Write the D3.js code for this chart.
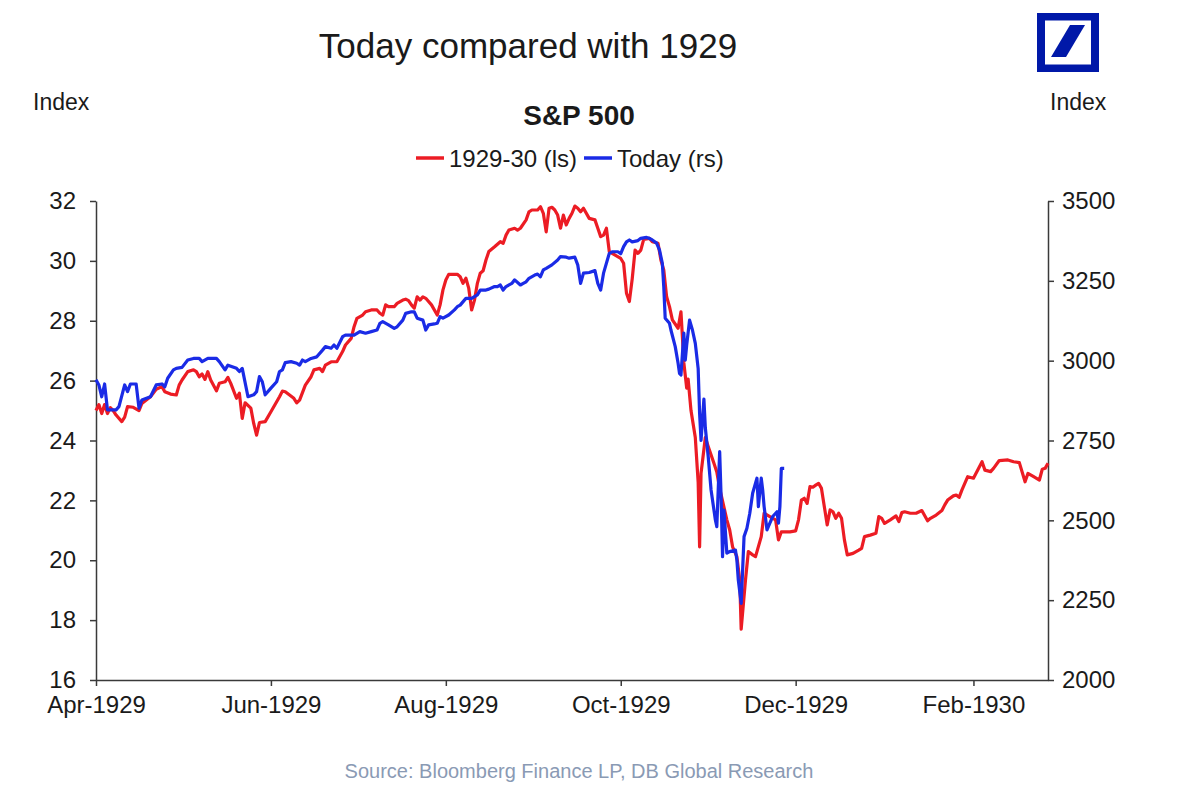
<!DOCTYPE html>
<html>
<head>
<meta charset="utf-8">
<script src="https://cdn.jsdelivr.net/npm/d3@7"></script>
<style>
  html, body { margin: 0; padding: 0; background: #fff; }
  svg { display: block; font-family: "Liberation Sans", Arial, sans-serif; }
</style>
</head>
<body>
<svg id="chart" width="1200" height="797"></svg>
<script>
// ---------------- DATA ----------------
const dates1929 = [
  "1929-04-01","1929-04-02","1929-04-03","1929-04-04","1929-04-05","1929-04-06","1929-04-07","1929-04-08","1929-04-10","1929-04-11",
  "1929-04-12","1929-04-14","1929-04-16","1929-04-17","1929-04-20","1929-04-22","1929-04-24","1929-04-25","1929-04-27","1929-04-29",
  "1929-04-30","1929-05-01","1929-05-03","1929-05-05","1929-05-06","1929-05-07","1929-05-08","1929-05-09","1929-05-10","1929-05-11",
  "1929-05-13","1929-05-14","1929-05-16","1929-05-17","1929-05-18","1929-05-20","1929-05-21","1929-05-22","1929-05-23","1929-05-25",
  "1929-05-26","1929-05-27","1929-05-28","1929-05-30","1929-06-01","1929-06-04","1929-06-05","1929-06-06","1929-06-09","1929-06-10",
  "1929-06-11","1929-06-13","1929-06-15","1929-06-16","1929-06-18","1929-06-19","1929-06-20","1929-06-22","1929-06-24","1929-06-26",
  "1929-06-27","1929-06-29","1929-06-30","1929-07-01","1929-07-03","1929-07-04","1929-07-06","1929-07-08","1929-07-09","1929-07-10",
  "1929-07-11","1929-07-12","1929-07-14","1929-07-15","1929-07-17","1929-07-18","1929-07-19","1929-07-20","1929-07-21","1929-07-22",
  "1929-07-23","1929-07-24","1929-07-25","1929-07-27","1929-07-29","1929-07-30","1929-07-31","1929-08-01","1929-08-02","1929-08-05",
  "1929-08-06","1929-08-07","1929-08-08","1929-08-09","1929-08-10","1929-08-11","1929-08-12","1929-08-13","1929-08-14","1929-08-15",
  "1929-08-16","1929-08-18","1929-08-20","1929-08-21","1929-08-22","1929-08-23","1929-08-25","1929-08-26","1929-08-27","1929-08-29",
  "1929-08-30","1929-08-31","1929-09-02","1929-09-03","1929-09-04","1929-09-05","1929-09-06","1929-09-07","1929-09-08","1929-09-09",
  "1929-09-10","1929-09-11","1929-09-12","1929-09-13","1929-09-14","1929-09-15","1929-09-16","1929-09-17","1929-09-18","1929-09-20",
  "1929-09-22","1929-09-23","1929-09-24","1929-09-25","1929-09-26","1929-09-27","1929-09-28","1929-10-01","1929-10-02","1929-10-03",
  "1929-10-04","1929-10-05","1929-10-06","1929-10-07","1929-10-08","1929-10-09","1929-10-11","1929-10-12","1929-10-14","1929-10-15",
  "1929-10-16","1929-10-17","1929-10-18","1929-10-19","1929-10-21","1929-10-22","1929-10-22 12:00","1929-10-23","1929-10-24","1929-10-24 12:00",
  "1929-10-25 12:00","1929-10-27","1929-10-28","1929-10-28 12:00","1929-10-29","1929-10-30 12:00","1929-10-31 12:00","1929-11-02 12:00","1929-11-03 12:00","1929-11-04 12:00",
  "1929-11-07","1929-11-08","1929-11-09","1929-11-10 12:00","1929-11-11 12:00","1929-11-12","1929-11-13 12:00","1929-11-14 12:00","1929-11-16","1929-11-17",
  "1929-11-19","1929-11-20","1929-11-22","1929-11-24","1929-11-25","1929-11-26","1929-11-29","1929-12-01","1929-12-02","1929-12-03",
  "1929-12-04","1929-12-05","1929-12-06","1929-12-07","1929-12-08","1929-12-09","1929-12-10","1929-12-11","1929-12-12","1929-12-13",
  "1929-12-14","1929-12-15","1929-12-16","1929-12-17","1929-12-18","1929-12-19","1929-12-21","1929-12-23","1929-12-24","1929-12-25",
  "1929-12-27","1929-12-29","1929-12-30","1929-12-31","1930-01-01","1930-01-03","1930-01-05","1930-01-06","1930-01-07","1930-01-08",
  "1930-01-10","1930-01-12","1930-01-14","1930-01-16","1930-01-17","1930-01-19","1930-01-21","1930-01-22","1930-01-23","1930-01-25",
  "1930-01-26","1930-01-27","1930-01-28","1930-01-30","1930-02-01","1930-02-04","1930-02-05","1930-02-07","1930-02-08","1930-02-10",
  "1930-02-13","1930-02-15","1930-02-17","1930-02-19","1930-02-20","1930-02-22","1930-02-24","1930-02-25","1930-02-26","1930-02-27"
];
const values1929 = [
  25.0,25.2,24.9,25.2,24.9,25.1,25.0,24.85,24.63,24.78,
  25.13,25.11,25.0,25.24,25.46,25.71,25.80,25.63,25.55,25.52,
  25.85,26.02,26.30,26.36,26.30,26.13,26.22,26.04,26.30,26.02,
  25.66,25.91,25.96,26.11,25.91,25.41,25.58,24.74,25.26,25.08,
  24.57,24.18,24.60,24.63,24.96,25.46,25.65,25.63,25.41,25.26,
  25.35,25.85,26.13,26.36,26.41,26.30,26.52,26.63,26.63,26.97,
  27.19,27.41,27.80,28.08,28.19,28.30,28.36,28.36,28.25,28.19,
  28.53,28.47,28.47,28.58,28.69,28.72,28.67,28.53,28.42,28.80,
  28.69,28.80,28.75,28.53,28.19,28.53,29.03,29.36,29.55,29.55,
  29.47,29.25,29.42,29.08,28.36,28.69,29.25,29.59,29.67,30.03,
  30.31,30.47,30.64,30.59,30.86,31.03,31.09,31.03,31.09,31.37,
  31.64,31.70,31.70,31.81,31.59,30.97,31.76,31.79,31.70,31.53,
  31.09,31.53,31.20,31.42,31.59,31.83,31.76,31.64,31.76,31.42,
  31.37,31.09,30.81,30.86,31.09,30.31,30.25,30.08,29.92,28.92,
  28.64,29.40,30.36,30.25,30.36,30.72,30.75,30.64,30.59,30.03,
  29.70,28.80,28.47,28.03,27.75,28.30,27.47,26.60,25.75,26.05,
  25.00,24.10,22.60,20.45,22.90,24.10,23.80,23.24,22.95,22.40,
  21.35,21.01,20.45,20.12,19.34,17.70,19.34,20.29,20.18,20.12,
  20.79,21.57,21.46,21.35,20.68,20.95,20.95,20.98,21.35,22.01,
  22.07,21.90,22.46,22.44,22.51,22.57,22.40,21.79,21.18,21.68,
  21.62,21.40,21.57,21.40,20.68,20.18,20.23,20.34,20.40,20.79,
  20.84,20.90,21.46,21.40,21.23,21.35,21.48,21.29,21.59,21.62,
  21.57,21.57,21.66,21.32,21.40,21.51,21.66,21.85,22.01,22.15,
  22.18,22.10,22.35,22.79,22.74,23.29,23.01,22.96,23.07,23.33,
  23.35,23.29,23.26,22.62,22.90,22.79,22.68,23.04,23.07,23.24
];

const datesToday = [
  "1929-04-01","1929-04-02","1929-04-03","1929-04-04","1929-04-05","1929-04-08","1929-04-09","1929-04-11","1929-04-12","1929-04-13",
  "1929-04-15","1929-04-16","1929-04-17","1929-04-20","1929-04-22","1929-04-24","1929-04-25","1929-04-26","1929-04-28","1929-04-29",
  "1929-05-01","1929-05-03","1929-05-05","1929-05-07","1929-05-08","1929-05-10","1929-05-13","1929-05-14","1929-05-16","1929-05-17",
  "1929-05-20","1929-05-21","1929-05-22","1929-05-24","1929-05-26","1929-05-27","1929-05-28","1929-05-29","1929-05-30","1929-06-01",
  "1929-06-03","1929-06-04","1929-06-05","1929-06-06","1929-06-08","1929-06-10","1929-06-11","1929-06-12","1929-06-13","1929-06-15",
  "1929-06-17","1929-06-19","1929-06-20","1929-06-22","1929-06-23","1929-06-24","1929-06-26","1929-06-27","1929-06-30","1929-07-02",
  "1929-07-04","1929-07-06","1929-07-08","1929-07-09","1929-07-10","1929-07-12","1929-07-14","1929-07-15","1929-07-17","1929-07-18",
  "1929-07-20","1929-07-21","1929-07-22","1929-07-24","1929-07-25","1929-07-26","1929-07-28","1929-07-29","1929-07-30","1929-07-31",
  "1929-08-02","1929-08-04","1929-08-05","1929-08-06","1929-08-08","1929-08-10","1929-08-12","1929-08-13","1929-08-15","1929-08-16",
  "1929-08-18","1929-08-19","1929-08-20","1929-08-21","1929-08-22","1929-08-24","1929-08-25","1929-08-27","1929-08-28","1929-08-29",
  "1929-08-30","1929-09-01","1929-09-02","1929-09-03","1929-09-04","1929-09-05","1929-09-07","1929-09-09","1929-09-10","1929-09-12",
  "1929-09-13","1929-09-15","1929-09-16","1929-09-17","1929-09-18","1929-09-20","1929-09-22","1929-09-23","1929-09-24","1929-09-25",
  "1929-09-27","1929-09-28","1929-09-30","1929-10-01","1929-10-02","1929-10-03","1929-10-04","1929-10-05","1929-10-07","1929-10-08",
  "1929-10-10","1929-10-11","1929-10-12","1929-10-13 12:00","1929-10-14 12:00","1929-10-15 12:00","1929-10-16","1929-10-16 12:00","1929-10-18","1929-10-18 12:00",
  "1929-10-20","1929-10-21","1929-10-21 12:00","1929-10-22","1929-10-23","1929-10-23 12:00","1929-10-24","1929-10-25","1929-10-26","1929-10-27",
  "1929-10-28","1929-10-28 12:00","1929-10-29","1929-10-30","1929-10-30 12:00","1929-10-31 12:00","1929-11-01 12:00","1929-11-03","1929-11-03 12:00","1929-11-04 12:00",
  "1929-11-05","1929-11-05 12:00","1929-11-06","1929-11-07","1929-11-08","1929-11-10","1929-11-10 12:00","1929-11-11","1929-11-12","1929-11-13",
  "1929-11-14","1929-11-15","1929-11-16","1929-11-17 12:00","1929-11-18","1929-11-19","1929-11-19 12:00","1929-11-20","1929-11-21","1929-11-22",
  "1929-11-23","1929-11-24 12:00","1929-11-25","1929-11-25 12:00","1929-11-26","1929-11-27"
];
const valuesToday = [
  2940,2924,2887,2927,2846,2846,2856,2924,2903,2927,
  2927,2851,2877,2887,2924,2927,2918,2945,2971,2976,
  2979,3002,3007,3007,2997,3007,3007,2997,2971,2986,
  2976,2966,2976,2887,2893,2903,2950,2934,2893,2914,
  2934,2966,2971,2994,2997,2992,2986,3002,2997,3007,
  3012,3033,3044,3039,3049,3039,3075,3080,3080,3091,
  3086,3091,3096,3117,3122,3112,3101,3106,3127,3148,
  3153,3153,3133,3127,3096,3112,3115,3117,3138,3133,
  3143,3159,3169,3174,3195,3195,3206,3221,3221,3224,
  3232,3232,3237,3221,3232,3242,3253,3237,3242,3247,
  3258,3268,3271,3263,3284,3289,3300,3315,3326,3324,
  3321,3324,3300,3242,3274,3276,3282,3242,3221,3274,
  3336,3341,3341,3335,3357,3372,3378,3372,3376,3383,
  3386,3383,3378,3368,3347,3305,3232,3133,3117,3096,
  3044,2992,2960,2955,3086,3002,3049,3127,3096,3054,
  2975,2835,2750,2880,2790,2700,2595,2501,2480,2715,
  2574,2386,2532,2397,2402,2407,2376,2313,2240,2449,
  2475,2522,2585,2632,2543,2632,2595,2543,2470,2491,
  2512,2527,2491,2543,2663,2663
];

const leftTicks = [16, 18, 20, 22, 24, 26, 28, 30, 32];
const rightTicks = [2000, 2250, 2500, 2750, 3000, 3250, 3500];
const xTickDates = ["1929-04-01", "1929-06-01", "1929-08-01", "1929-10-01", "1929-12-01", "1930-02-01"];
const xTickLabels = ["Apr-1929", "Jun-1929", "Aug-1929", "Oct-1929", "Dec-1929", "Feb-1930"];
const xDomain = ["1929-04-01", "1930-02-27"];
const seriesNames = ["1929-30 (ls)", "Today (rs)"];

// ---------------- DRAW ----------------
const RED = "#EC1C24", BLUE = "#1A2BE6", AXIS = "#3a3a3a", TEXT = "#1a1a1a";
const pDay = d3.timeParse("%Y-%m-%d"), pHour = d3.timeParse("%Y-%m-%d %H:%M");
const parse = s => (s.length > 10 ? pHour(s) : pDay(s));

const svg = d3.select("#chart");
const m = { left: 96, right: 1048, top: 201, bottom: 680 };

const x = d3.scaleTime().domain(xDomain.map(parse)).range([m.left, m.right]);
const yL = d3.scaleLinear().domain([16, 32]).range([m.bottom, m.top]);
const yR = d3.scaleLinear().domain([2000, 3500]).range([m.bottom, m.top]);

// titles
svg.append("text").attr("x", 528).attr("y", 45).attr("text-anchor", "middle")
  .attr("dominant-baseline", "central").attr("font-size", 35).attr("fill", TEXT)
  .text("Today compared with 1929");
svg.append("text").attr("x", 33).attr("y", 102).attr("dominant-baseline", "central")
  .attr("font-size", 23).attr("fill", TEXT).text("Index");
svg.append("text").attr("x", 1050).attr("y", 102).attr("dominant-baseline", "central")
  .attr("font-size", 23).attr("fill", TEXT).text("Index");
svg.append("text").attr("x", 579).attr("y", 115).attr("text-anchor", "middle")
  .attr("dominant-baseline", "central").attr("font-size", 28).attr("font-weight", "bold")
  .attr("fill", TEXT).text("S&P 500");

// legend
const legend = [
  { name: seriesNames[0], color: RED, x0: 416 },
  { name: seriesNames[1], color: BLUE, x0: 584 }
];
const lg = svg.append("g");
legend.forEach(l => {
  lg.append("line").attr("x1", l.x0).attr("x2", l.x0 + 28).attr("y1", 158).attr("y2", 158)
    .attr("stroke", l.color).attr("stroke-width", 3.5);
  lg.append("text").attr("x", l.x0 + 33).attr("y", 158).attr("dominant-baseline", "central")
    .attr("font-size", 24).attr("fill", TEXT).text(l.name);
});

// logo (Deutsche Bank mark)
const logo = svg.append("g");
logo.append("rect").attr("x", 1037).attr("y", 13).attr("width", 62).attr("height", 59).attr("fill", "#0018A8");
logo.append("rect").attr("x", 1045).attr("y", 20.5).attr("width", 46).attr("height", 44).attr("fill", "#fff");
logo.append("polygon").attr("points", "1051,57 1066,57 1085,25 1070,25").attr("fill", "#0018A8");

// axes
function styleAxis(g) {
  g.selectAll("path.domain").attr("stroke", AXIS).attr("stroke-width", 1.5);
  g.selectAll(".tick line").attr("stroke", AXIS).attr("stroke-width", 1.5);
  g.selectAll(".tick text").attr("fill", TEXT).attr("font-size", 24)
    .attr("font-family", "'Liberation Sans', Arial, sans-serif");
}
svg.append("g").attr("transform", `translate(${m.left},0)`)
  .call(d3.axisLeft(yL).tickValues(leftTicks).tickFormat(d3.format("d"))
    .tickSizeInner(6).tickSizeOuter(0).tickPadding(14))
  .call(styleAxis);
svg.append("g").attr("transform", `translate(${m.right},0)`)
  .call(d3.axisRight(yR).tickValues(rightTicks).tickFormat(d3.format("d"))
    .tickSizeInner(6).tickSizeOuter(0).tickPadding(8))
  .call(styleAxis);
svg.append("g").attr("transform", `translate(0,${m.bottom})`)
  .call(d3.axisBottom(x).tickValues(xTickDates.map(parse)).tickFormat((d, i) => xTickLabels[i])
    .tickSizeInner(6).tickSizeOuter(0).tickPadding(10))
  .call(styleAxis);

// lines
const red = dates1929.map((d, i) => ({ date: parse(d), v: values1929[i] }));
const blue = datesToday.map((d, i) => ({ date: parse(d), v: valuesToday[i] }));
svg.append("path").datum(red).attr("fill", "none").attr("stroke", RED).attr("stroke-width", 3.2)
  .attr("stroke-linejoin", "round")
  .attr("d", d3.line().x(d => x(d.date)).y(d => yL(d.v)));
svg.append("path").datum(blue).attr("fill", "none").attr("stroke", BLUE).attr("stroke-width", 3.2)
  .attr("stroke-linejoin", "round")
  .attr("d", d3.line().x(d => x(d.date)).y(d => yR(d.v)));

// source
svg.append("text").attr("x", 579).attr("y", 771).attr("text-anchor", "middle")
  .attr("dominant-baseline", "central").attr("font-size", 20).attr("fill", "#8A9AB4")
  .text("Source:  Bloomberg Finance LP, DB Global Research");
</script>
</body>
</html>
